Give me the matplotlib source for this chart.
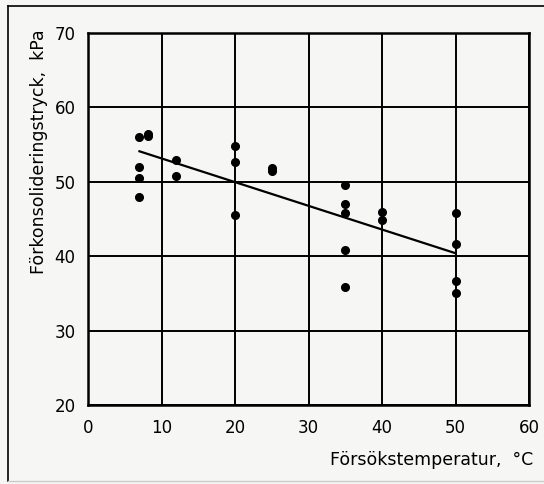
import matplotlib.pyplot as plt
from matplotlib.lines import Line2D

# Measured points (temperature in degC, preconsolidation pressure in kPa)
temp = [7, 7, 7, 7,
        8.2, 8.2,
        12, 12,
        20, 20, 20,
        25, 25,
        35, 35, 35, 35, 35,
        40, 40,
        50, 50, 50, 50]
pressure = [56.0, 52.0, 50.5, 48.0,
            56.1, 56.4,
            52.9, 50.8,
            54.8, 52.7, 45.6,
            51.9, 51.5,
            49.6, 47.0, 45.8, 40.8, 35.8,
            45.9, 44.8,
            45.8, 41.7, 36.6, 35.0]

# Fitted trend line
trend_x = [7, 50]
trend_y = [54.1, 40.4]

x_ticks = [0, 10, 20, 30, 40, 50, 60]
y_ticks = [20, 30, 40, 50, 60, 70]

bg = '#f6f6f4'
plt.rcParams['font.family'] = 'DejaVu Sans'

fig = plt.figure(figsize=(5.44, 4.84), dpi=100, facecolor=bg)
ax = fig.add_axes([88 / 544, 1 - 405 / 484, 441 / 544, 372 / 484])
ax.set_facecolor(bg)

ax.plot(trend_x, trend_y, color='black', lw=1.6, zorder=3)
ax.plot(temp, pressure, 'o', color='black', ms=5.5, zorder=4)

ax.set_xlim(0, 60)
ax.set_ylim(20, 70)
ax.set_xticks(x_ticks)
ax.set_yticks(y_ticks)
ax.grid(True, color='black', lw=1.4)
ax.tick_params(length=0, labelsize=12)
ax.tick_params(axis='x', pad=10)
ax.tick_params(axis='y', pad=9)
for s in ax.spines.values():
    s.set_linewidth(1.8)

fig.text(533 / 544, 1 - 460 / 484, 'Försökstemperatur,  °C',
         ha='right', va='center', fontsize=12.5)
fig.text(39 / 544, 1 - 152 / 484, 'Förkonsolideringstryck,  kPa',
         ha='center', va='center', rotation=90, fontsize=12.5)

# outer frame of the scanned figure
fig.add_artist(Line2D([8 / 544, 8 / 544], [1 - 481 / 484, 1 - 6 / 484],
                      transform=fig.transFigure, color='black', lw=1.2))
fig.add_artist(Line2D([8 / 544, 1], [1 - 6 / 484, 1 - 6 / 484],
                      transform=fig.transFigure, color='black', lw=1.2))
fig.add_artist(Line2D([8 / 544, 1], [1 - 481 / 484, 1 - 481 / 484],
                      transform=fig.transFigure, color='#cccccc', lw=1.0))

fig.savefig('out.png', dpi=100, facecolor=bg)
